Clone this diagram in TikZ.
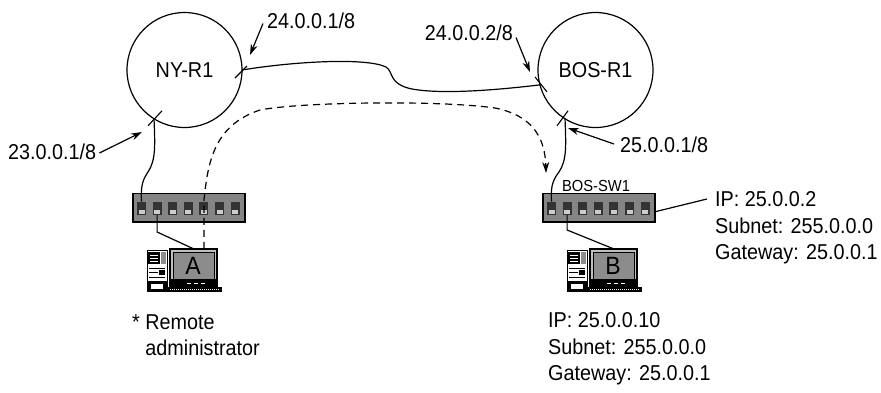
\documentclass[tikz,border=0pt]{standalone}
\usepackage{fontspec}
\setmainfont{Liberation Sans}[FakeStretch=0.92]
\usetikzlibrary{arrows.meta,calc}

\newcommand\lblfont{\fontsize{21.5}{26.5}\selectfont}
\newcommand\swfont{\fontsize{16}{19}\selectfont}
\newcommand\pcfont{\fontsize{25}{30}\selectfont}

\tikzset{
  router/.style={circle, draw, line width=1.2, minimum size=115, inner sep=0,
    outer sep=0, font=\lblfont},
  switchbox/.style={rectangle, draw, line width=1.1, fill=black!48,
    minimum width=112, minimum height=28.5, inner sep=0, outer sep=0},
  port/.style={rectangle, fill=black!80, minimum width=9, minimum height=13.5,
    inner sep=0, outer sep=0,
    path picture={\fill[black!20]
      ([shift={(1.5,-1.5)}]path picture bounding box.south west) rectangle
      ([shift={(-1.5,-5.5)}]path picture bounding box.south east);}},
  link/.style={line width=1.2},
  tick/.style={line width=1.1},
  lblarrow/.style={line width=1.2, -{Stealth[length=11, width=7]}},
  dashlink/.style={line width=1.2, dash pattern=on 7pt off 5pt,
    -{Stealth[length=11, width=7]}},
  txt/.style={font=\lblfont, inner sep=0},
  pics/pc/.style={code={
    % tower case
    \draw[line width=0.9, fill=white] (0,0) rectangle (20,41);
    \fill[black] (1,2) rectangle (13,14);
    \foreach \yy in {5,8,11} \draw[white, line width=0.9] (3,\yy) -- (11,\yy);
    \fill[black!45] (14,2) rectangle (19,14);
    \draw[line width=0.9] (2,18) -- (18,18) (2,22) -- (11,22) (2,27) -- (18,27);
    \fill[black] (12,20) rectangle (18,25);
    \fill[black] (0,31) rectangle (20,41);
    \fill[white] (4,34) rectangle (16,39);
    % monitor
    \draw[line width=1.2, fill=black!25] (23,-1) rectangle (70,36);
    \draw[line width=0.9, fill=black!45] (26,2) rectangle (67,29);
    \fill[black] (23,29) rectangle (70,36);
    \draw[white, line width=1, dash pattern=on 4pt off 3pt] (40,33) -- (60,33);
    \node[minimum width=47, minimum height=37, inner sep=0] (-scr) at (46.5,17.5) {};
    \node[font=\pcfont, inner sep=0] at (46,15.5) {#1};
    % keyboard
    \fill[black] (21,37) rectangle (75,42);
    \draw[white, line width=0.7, dash pattern=on 1.2pt off 0.8pt] (23,39.5) -- (73,39.5);
  }}
}

\begin{document}
\begin{tikzpicture}[x=1pt, y=-1pt]
\fill[white] (0,0) rectangle (881,392);
\useasboundingbox (0,0) rectangle (881,392);

% routers
\node[router] (ny) at (184.5,70) {NY-R1};
\node[router] (bos) at (595.5,70) {BOS-R1};

% WAN link between the routers
\draw[link] (ny.east) .. controls (290,62) and (365,57) .. (386,67)
  .. controls (394,72) and (388,84) .. (412,89)
  .. controls (445,95) and (505,89) .. (bos.195);

% interface ticks
\draw[tick] ([shift={(-7,8)}]ny.east) -- ([shift={(5,-4)}]ny.east);
\draw[tick] ([shift={(-6,7)}]ny.238) -- ([shift={(8,-8)}]ny.238);
\draw[tick] ([shift={(-5,-8)}]bos.195) -- ([shift={(7,7)}]bos.195);
\draw[tick] ([shift={(-8,7)}]bos.238) -- ([shift={(3,-8)}]bos.238);

% switches
\node[switchbox] (swny) at (189,207.75) {};
\node[switchbox] (swbos) at (599,207.75) {};
\foreach \i in {1,...,7} {
  \node[port] (ny-p\i) at ($(swny.west)+({8.5+15.6*(\i-1)},0.5)$) {};
  \node[port] (bos-p\i) at ($(swbos.west)+({8.5+15.6*(\i-1)},0.5)$) {};
}
\node[font=\swfont, inner sep=0] (swlbl) at (596,186) {BOS-SW1};

% computers
\pic (pcA) at (147,250) {pc=A};
\pic (pcB) at (567,250) {pc=B};

% router uplinks to the switches
\draw[link] (ny.238) .. controls (155,145) and (156,160) .. (148,172)
  .. controls (141,182) and (141,190) .. (ny-p1.north);
\draw[link] (bos.238) .. controls (566,145) and (567,160) .. (559,172)
  .. controls (551,182) and (551,190) .. (bos-p1.north);

% computers to the switches
\draw[link] (ny-p2.south) -- ++(0,17) -- (pcA-scr.north);
\draw[link] (bos-p2.south) -- ++(0,15) -- (pcB-scr.north);

% remote session path
\coordinate (dend) at (546,173);
\draw[dashlink] (ny-p5 |- pcA-scr.north) -- (204,200)
  .. controls (208,160) and (215,125) .. (260,110)
  .. controls (300,102) and (440,100) .. (495,108)
  .. controls (530,115) and (545,135) .. (dend);

% interface labels
\node[txt, anchor=west] (l241) at (267,20.5) {24.0.0.1/8};
\coordinate (t241) at (250,55);
\draw[lblarrow] ([shift={(-4,3)}]l241.west) -- (t241);

\node[txt, anchor=east] (l242) at (513,32.5) {24.0.0.2/8};
\coordinate (t242) at (530,72);
\draw[lblarrow] ([shift={(3,5)}]l242.east) -- (t242);

\node[txt, anchor=west] (l231) at (8,152) {23.0.0.1/8};
\coordinate (t231) at (142,132);
\draw[lblarrow] ([shift={(3,1)}]l231.east) -- (t231);

\node[txt, anchor=west] (l251) at (620,145) {25.0.0.1/8};
\coordinate (t251) at (568,128);
\draw[lblarrow] ([shift={(-6,-1)}]l251.west) -- (t251);

% switch settings
\node[txt, anchor=north west, align=left] (infosw) at (715,191.3)
  {IP: 25.0.0.2\\Subnet: 255.0.0.0\\Gateway: 25.0.0.1};
\coordinate (ipend) at (707,199);
\draw[link] ([shift={(0,4)}]swbos.east) -- (ipend);

% host notes
\node[txt, anchor=north west, align=left] (admin) at (132,314.3)
  {* Remote\\\hphantom{* }administrator};
\node[txt, anchor=north west, align=left] (infopc) at (548,312.3)
  {IP: 25.0.0.10\\Subnet: 255.0.0.0\\Gateway: 25.0.0.1};
\end{tikzpicture}
\end{document}
